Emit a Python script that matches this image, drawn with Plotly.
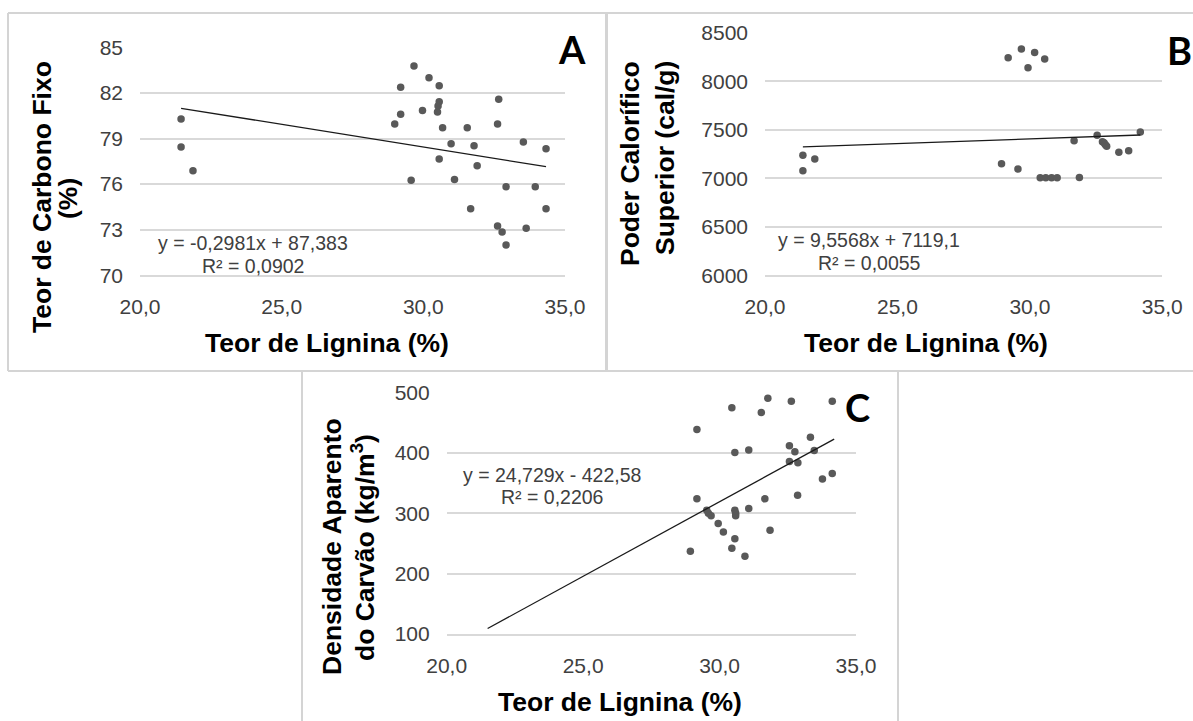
import plotly.graph_objects as go

W, H = 1193, 721

# ---------------- data ----------------
lignina_a = [21.45, 21.45, 21.87, 28.99, 29.2, 29.2, 29.67, 29.57, 29.97, 30.2, 30.56, 30.56,
             30.52, 30.5, 30.68, 30.56, 30.98, 31.1, 31.55, 31.79, 31.9, 31.67, 32.66, 32.62,
             32.92, 32.62, 32.78, 32.92, 33.53, 33.63, 33.95, 34.33, 34.33]
carbono_fixo = [80.28, 78.44, 76.88, 79.95, 80.6, 82.37, 83.77, 76.25, 80.85, 83.0, 82.47, 81.42,
                81.14, 80.74, 79.71, 77.65, 78.66, 76.31, 79.71, 78.53, 77.21, 74.38, 81.58, 79.95,
                75.83, 73.24, 72.85, 72.0, 78.77, 73.09, 75.83, 78.33, 74.38]

lignina_b = [21.43, 21.43, 21.88, 29.18, 29.68, 30.18, 30.56, 29.93, 28.93, 29.55, 30.39, 30.6,
             30.82, 31.03, 31.87, 31.67, 32.54, 32.74, 32.8, 32.85, 32.9, 33.36, 33.73, 34.17]
poder_calorifico = [7236, 7078, 7199, 8242, 8332, 8297, 8229, 8139, 7150, 7095, 7005, 7005,
                    7005, 7005, 7008, 7387, 7442, 7377, 7365, 7345, 7330, 7267, 7284, 7477]

lignina_c = [28.93, 29.17, 29.17, 29.53, 29.59, 29.69, 29.95, 30.14, 30.45, 30.45, 30.56, 30.56,
             30.59, 30.59, 30.56, 30.93, 31.07, 31.07, 31.53, 31.77, 31.66, 31.85, 32.63, 32.56,
             32.56, 32.76, 32.87, 32.86, 33.33, 33.47, 33.77, 34.13, 34.13]
densidade = [237, 439, 324, 305, 300, 296, 283, 269, 475, 242, 401, 305,
             300, 296, 258, 229, 405, 308, 467, 491, 324, 272, 486, 412,
             386, 402, 384, 330, 426, 404, 357, 486, 366]

slopes = [-0.2981, 9.5568, 24.729]
intercepts = [87.383, 7119.1, -422.58]
trend_x_ranges = [[21.45, 34.33], [21.43, 34.17], [21.5, 34.2]]
equations = ["y = -0,2981x + 87,383", "y = 9,5568x + 7119,1", "y = 24,729x - 422,58"]
r2_labels = ["R² = 0,0902", "R² = 0,0055", "R² = 0,2206"]
panel_letters = ["A", "B", "C"]
x_title = "Teor de Lignina (%)"
y_titles = [["Teor de Carbono Fixo", "(%)"],
            ["Poder Calorífico", "Superior (cal/g)"],
            ["Densidade Aparento", "do Carvão (kg/m<sup>3</sup>)"]]
x_ticks = [20, 25, 30, 35]
y_ticks = [[70, 73, 76, 79, 82, 85],
           [6000, 6500, 7000, 7500, 8000, 8500],
           [100, 200, 300, 400, 500]]

# ---------------- helpers ----------------
def fx(px):
    return px / W

def fy(py):
    return 1 - py / H

FONT = "Liberation Sans, Arial, sans-serif"
GRID = "#d9d9d9"
MARK = "#595959"
TICKC = "#404040"

# plot-area pixel boxes [x0, x1, ytop, ybottom]
boxes = [[140, 565, 47.3, 275.3], [765, 1162.3, 32.7, 275.3], [446.7, 856, 392.7, 634]]

fig = go.Figure()
xs = [lignina_a, lignina_b, lignina_c]
ys = [carbono_fixo, poder_calorifico, densidade]

for i in range(3):
    xa = "x" if i == 0 else f"x{i+1}"
    ya = "y" if i == 0 else f"y{i+1}"
    fig.add_trace(go.Scatter(x=xs[i], y=ys[i], mode="markers", xaxis=xa, yaxis=ya,
                             marker=dict(color=MARK, size=7.5), cliponaxis=False, showlegend=False))
    tx = trend_x_ranges[i]
    ty = [slopes[i] * v + intercepts[i] for v in tx]
    fig.add_trace(go.Scatter(x=tx, y=ty, mode="lines", xaxis=xa, yaxis=ya,
                             line=dict(color="#1a1a1a", width=1.3), showlegend=False))

layout_axes = {}
for i in range(3):
    x0, x1, yt, yb = boxes[i]
    sfx = "" if i == 0 else str(i + 1)
    layout_axes[f"xaxis{sfx}"] = dict(
        domain=[fx(x0), fx(x1)], range=[20, 35], anchor=f"y{sfx}", automargin=False,
        tickvals=x_ticks, tickformat=".1f", showgrid=False, zeroline=False,
        showline=True, linecolor=GRID, linewidth=1.5,
        ticks="", ticklabelstandoff=12,
        tickfont=dict(family=FONT, size=21, color=TICKC))
    layout_axes[f"yaxis{sfx}"] = dict(
        domain=[fy(yb), fy(yt)], range=[y_ticks[i][0], y_ticks[i][-1]], anchor=f"x{sfx}",
        automargin=False,
        tickvals=y_ticks[i], tickformat="d", showgrid=True, gridcolor=GRID, gridwidth=1.5,
        zeroline=False, showline=False, ticks="", ticklabelstandoff=16,
        tickfont=dict(family=FONT, size=21, color=TICKC))

annotations = []
def ann(text, px, py, size, bold=False, angle=0, font=FONT, color="black", xanchor="center"):
    annotations.append(dict(text=f"<b>{text}</b>" if bold else text, x=fx(px), y=fy(py),
                            xref="paper", yref="paper", showarrow=False, textangle=angle,
                            xanchor=xanchor, yanchor="middle",
                            font=dict(family=font, size=size, color=color)))

# equations
eq_pos = [[253, 243, 266], [869, 240, 263], [552, 475, 497]]
for i in range(3):
    cx, l1, l2 = eq_pos[i]
    ann(equations[i], cx, l1, 19.5, color=TICKC)
    ann(r2_labels[i], cx, l2, 19.5, color=TICKC)

# panel letters
letter_pos = [[572, 49], [1179, 50], [857, 407]]
for i in range(3):
    ann(panel_letters[i], letter_pos[i][0], letter_pos[i][1], 38, bold=True,
        font="Lato, Liberation Sans, sans-serif")

# x titles
xt_pos = [[327, 343], [926, 343], [620, 702]]
for i in range(3):
    ann(x_title, xt_pos[i][0], xt_pos[i][1], 26.5, bold=True)

# y titles (two lines each)
yt_pos = [[[42, 197], [68, 199]], [[630, 163], [665, 158]], [[332, 547], [363, 548]]]
for i in range(3):
    for j in range(2):
        ann(y_titles[i][j], yt_pos[i][j][0], yt_pos[i][j][1], 26.5, bold=True, angle=-90)

# frames
FR = "#d4d4d4"
def line(x0, y0, x1, y1, w=2):
    return dict(type="line", xref="paper", yref="paper", x0=fx(x0), y0=fy(y0), x1=fx(x1), y1=fy(y1),
                line=dict(color=FR, width=w), layer="below")

shapes = [
    line(8, 13, 1193, 13),
    line(8, 13, 8, 371),
    line(8, 371, 1193, 371),
    line(606.5, 13, 606.5, 371, 3),
    line(302, 372, 302, 721),
    line(898, 372, 898, 721),
]

fig.update_layout(
    width=W, height=H, margin=dict(l=0, r=0, t=0, b=0, pad=0, autoexpand=False),
    paper_bgcolor="white", plot_bgcolor="white",
    separators=",.", showlegend=False,
    annotations=annotations, shapes=shapes,
    **layout_axes)

fig.write_html(
    "out.html",
    config={"displayModeBar": False},
    post_script="document.body.style.margin='0';document.body.style.padding='0';"
                "document.body.style.overflow='hidden';")
